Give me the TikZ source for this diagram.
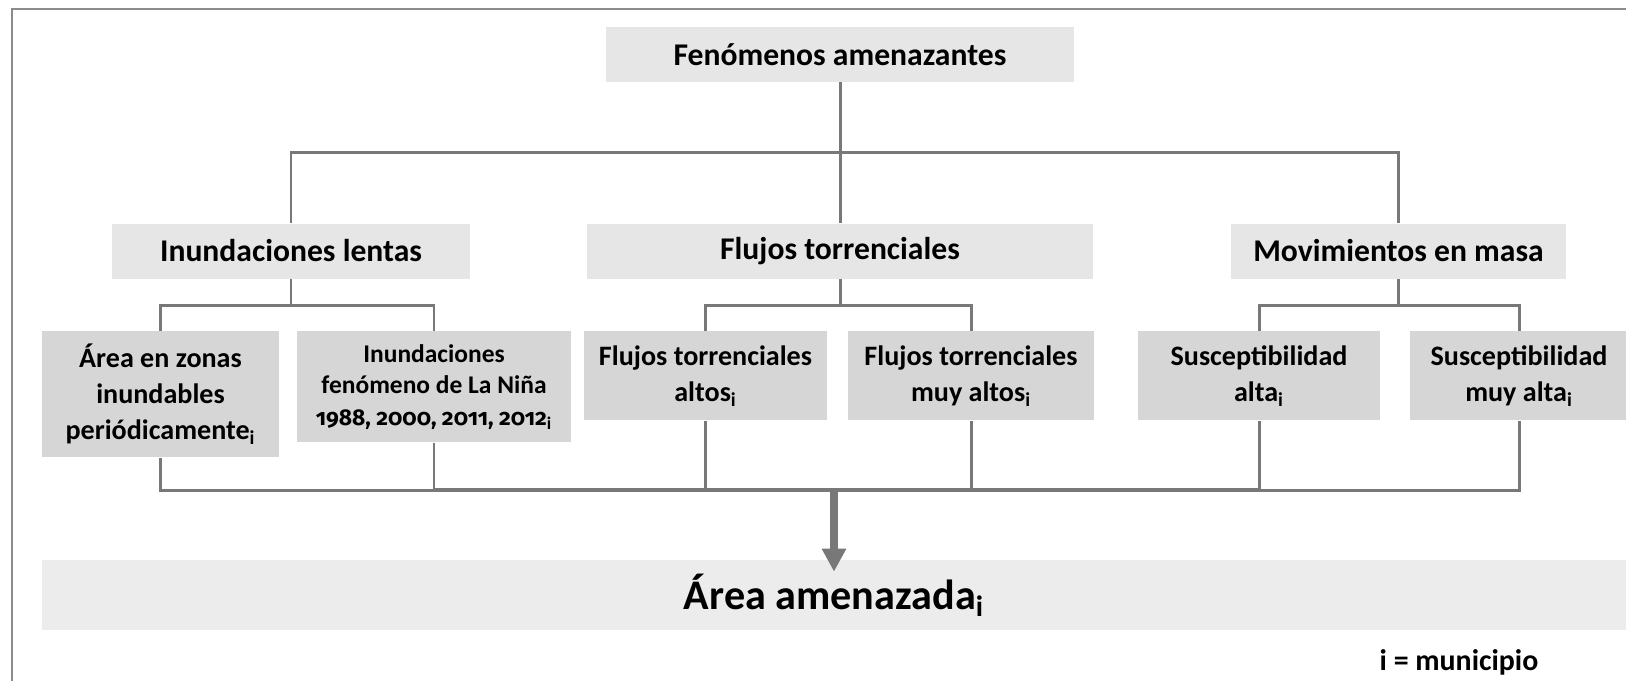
\documentclass[tikz,border=0pt]{standalone}
\usepackage{fontspec}
\setmainfont{Carlito}
\newfontfamily\yearfont{Fira Sans}[Numbers=OldStyle]
\usetikzlibrary{arrows.meta}
\definecolor{linegray}{HTML}{787878}
\definecolor{framegray}{HTML}{8C8C8C}
\definecolor{lightbox}{HTML}{E6E6E6}
\definecolor{darkbox}{HTML}{D6D6D6}
\definecolor{basebox}{HTML}{ECECEC}
\begin{document}
\begin{tikzpicture}
[
    x=0.02cm, y=-0.02cm,
    topbox/.style={fill=lightbox, inner sep=0pt, minimum height=1.1cm, font=\bfseries\fontsize{18}{22}\selectfont},
    subbox/.style={fill=darkbox, inner sep=0pt, anchor=north, align=center, font=\bfseries\fontsize{16}{20.5}\selectfont},
    conn/.style={draw=linegray, line width=1.7pt},
    thickconn/.style={draw=linegray, line width=2.6pt},
]
\useasboundingbox (0,0) rectangle (1626,681);
\draw[framegray, line width=1.2pt] (12,681) -- (12,9) -- (1626,9);
\coordinate (hbar) at (0,152);
\coordinate (subbar) at (0,305);
\coordinate (basebar) at (0,490);

% levels 1 and 2
\node[topbox, minimum width=9.36cm] (fen) at (840,54.5) {Fenómenos amenazantes};
\node[topbox, minimum width=7.16cm] (inund) at (291,251) {Inundaciones lentas};
\node[topbox, minimum width=10.12cm] (flujos) at (840,251) {Flujos torrenciales};
\node[topbox, minimum width=6.7cm] (movim) at (1398.5,251) {Movimientos en masa};

% level 3
\node[subbox, minimum width=4.74cm, minimum height=2.52cm] (zonas) at (160.5,331) {Área en zonas\\inundables\\periódicamente\textsubscript{i}};
\node[subbox, minimum width=5.48cm, minimum height=2.22cm, font=\bfseries\fontsize{14.5}{18}\selectfont] (nina) at (434,331) {Inundaciones\\fenómeno de La Niña\\{\yearfont\fontsize{13}{18}\selectfont 1988, 2000, 2011, 2012}\textsubscript{i}};
\node[subbox, minimum width=4.86cm, minimum height=1.78cm] (falto) at (705.5,331) {Flujos torrenciales\\altos\textsubscript{i}};
\node[subbox, minimum width=4.92cm, minimum height=1.78cm] (fmuy) at (971,331) {Flujos torrenciales\\muy altos\textsubscript{i}};
\node[subbox, minimum width=4.84cm, minimum height=1.78cm] (salta) at (1259,331) {Susceptibilidad\\alta\textsubscript{i}};
\node[subbox, minimum width=4.36cm, minimum height=1.78cm] (smuy) at (1519,331) {Susceptibilidad\\muy alta\textsubscript{i}};

\node[fill=basebox, inner sep=0pt, minimum width=31.68cm, minimum height=1.4cm, font=\bfseries\fontsize{24}{28}\selectfont] (area) at (834,595) {Área amenazada\textsubscript{i}};
\node[anchor=base, font=\bfseries\fontsize{17}{20}\selectfont] (nota) at (1459,670) {i = municipio};

% connectors
\draw[conn] (fen) -- (flujos);
\draw[conn] (inund.north) |- (movim.north |- hbar) -- (movim.north);
\draw[conn] (inund.south) -- (inund.south |- subbar);
\draw[conn] (zonas.north) |- (nina.north |- subbar) -- (nina.north);
\draw[conn] (flujos.south) -- (flujos.south |- subbar);
\draw[conn] (falto.north) |- (fmuy.north |- subbar) -- (fmuy.north);
\draw[conn] (movim.south) -- (movim.south |- subbar);
\draw[conn] (salta.north) |- (smuy.north |- subbar) -- (smuy.north);

\draw[conn] (zonas.south) |- (smuy.south |- basebar) -- (smuy.south);
\foreach \n in {nina,falto,fmuy,salta}
    \draw[conn] (\n.south) -- (\n.south |- basebar);
\draw[thickconn] (nina.south |- basebar) -- (salta.south |- basebar);
\draw[linegray, line width=4.5pt, -{Triangle[width=0.46cm,length=0.46cm]}] (area.north |- basebar) -- ([yshift=-0.24cm]area.north);
\end{tikzpicture}
\end{document}
